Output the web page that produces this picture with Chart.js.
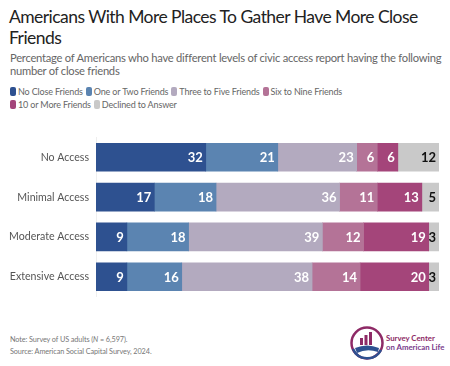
<!DOCTYPE html>
<html>
<head>
<meta charset="utf-8">
<script src="https://cdn.jsdelivr.net/npm/chart.js@4/dist/chart.umd.min.js"></script>
<style>
  body { margin: 0; background: #fff; font-family: Lato, 'Open Sans', sans-serif; }
  #wrap { position: relative; width: 450px; height: 366px; overflow: hidden; }
  h1 { position: absolute; left: 9px; top: 6px; margin: 0; font-weight: 400; font-size: 17.5px; line-height: 21px; color: #222; letter-spacing: -0.55px; white-space: nowrap; }
  #sub { position: absolute; left: 10px; top: 52px; margin: 0; font-size: 11.2px; line-height: 12.5px; color: #666; letter-spacing: -0.25px; white-space: nowrap; }
  #legend { position: absolute; left: 10px; top: 86px; font-size: 9px; line-height: 12.5px; color: #666; white-space: nowrap; letter-spacing: -0.15px; }
  #legend span.item { margin-right: 3px; }
  #legend i { display: inline-block; width: 6px; height: 9px; border-radius: 2px; margin-right: 2px; vertical-align: -1px; }
  #chartBox { position: absolute; left: 0; top: 124px; width: 450px; height: 186px; }
  #note { position: absolute; left: 10px; top: 334px; font-size: 7.3px; line-height: 12px; color: #777; letter-spacing: -0.1px; }
  #logo { position: absolute; left: 348px; top: 325px; }
</style>
</head>
<body>
<div id="wrap">
  <h1>Americans With More Places To Gather Have More Close<br>Friends</h1>
  <p id="sub">Percentage of Americans who have different levels of civic access report having the following<br>number of close friends</p>
  <div id="legend"></div>
  <div id="chartBox"><canvas id="friendsChart"></canvas></div>
  <div id="note">Note: Survey of US adults (<i>N</i> = 6,597).<br>Source: American Social Capital Survey, 2024.</div>
  <svg id="logo" width="100" height="38" viewBox="0 0 100 38">
    <circle cx="19" cy="18" r="15.5" fill="none" stroke="#8e2a66" stroke-width="2.5"/>
    <path d="M5 24 A15.5 15.5 0 0 0 33 25" fill="none" stroke="#2e5190" stroke-width="2.5"/>
    <rect x="12" y="13" width="3" height="7" fill="#8e2a66"/>
    <rect x="16.5" y="10" width="3" height="10" fill="#8e2a66"/>
    <rect x="21" y="7" width="3" height="13" fill="#8e2a66"/>
    <path d="M7 23 Q19 18 31 23 L30 27 Q19 23 9 28 Z" fill="#2e5190"/>
    <text x="38" y="16" font-size="7.8" font-weight="700" fill="#8e2a66" font-family="Lato, sans-serif">Survey Center</text>
    <text x="38" y="25" font-size="7.8" font-weight="700" fill="#7a3c8c" font-family="Lato, sans-serif">on American Life</text>
  </svg>
</div>
<script>
'use strict';

let accessLevels = ['No Access', 'Minimal Access', 'Moderate Access', 'Extensive Access'];

let friendGroups = ['No Close Friends', 'One or Two Friends', 'Three to Five Friends', 'Six to Nine Friends', '10 or More Friends', 'Declined to Answer'];

let noCloseFriends = [32, 17, 9, 9];
let oneOrTwo = [21, 18, 18, 16];
let threeToFive = [23, 36, 39, 38];
let sixToNine = [6, 11, 12, 14];
let tenOrMore = [6, 13, 19, 20];
let declined = [12, 5, 3, 3];

let groupColors = ['#2e5190', '#5b84b1', '#b3aabf', '#b47397', '#a4457a', '#c9c9c9'];
let labelColors = ['#fff', '#fff', '#fff', '#fff', '#fff', '#111'];

let allSeries = [noCloseFriends, oneOrTwo, threeToFive, sixToNine, tenOrMore, declined];

// html legend, wraps after the fourth item like the original
let legendBox = document.getElementById('legend');
for (let i = 0; i < friendGroups.length; i++) {
  let item = document.createElement('span');
  item.className = 'item';
  item.innerHTML = `<i style="background:${groupColors[i]}"></i>${friendGroups[i]}`;
  legendBox.appendChild(item);
  if (i === 3) {
    legendBox.appendChild(document.createElement('br'));
  }
}

// draws the numbers at the right end of each segment
const barLabels = {
  id: 'barLabels',
  afterDatasetsDraw(chart) {
    let ctx = chart.ctx;
    ctx.save();
    ctx.font = 'bold 13px Lato, sans-serif';
    ctx.textAlign = 'right';
    ctx.textBaseline = 'middle';
    chart.data.datasets.forEach((ds, i) => {
      let meta = chart.getDatasetMeta(i);
      meta.data.forEach((bar, j) => {
        ctx.fillStyle = labelColors[i];
        ctx.fillText(ds.data[j], bar.x - 3, bar.y + 1);
      });
    });
    ctx.restore();
  }
};

let datasets = [];
for (let i = 0; i < friendGroups.length; i++) {
  datasets.push({
    label: friendGroups[i],
    data: allSeries[i],
    backgroundColor: groupColors[i],
    borderWidth: 0,
    barThickness: 28
  });
}

const config = {
  type: 'bar',
  data: { labels: accessLevels, datasets: datasets },
  options: {
    indexAxis: 'y',
    responsive: true,
    maintainAspectRatio: false,
    animation: false,
    layout: { padding: { left: 0, right: 11, top: 0, bottom: 0 } },
    plugins: {
      legend: { display: false },
      tooltip: { enabled: false }
    },
    scales: {
      x: {
        stacked: true,
        min: 0,
        max: 100,
        display: false
      },
      y: {
        stacked: true,
        grid: { display: false, drawTicks: false },
        border: { display: true, color: '#eeeeee' },
        ticks: {
          color: '#555',
          padding: 7,
          font: { family: 'Lato, sans-serif', size: 10.6 }
        },
        afterFit(scale) { scale.width = 96; }
      }
    }
  },
  plugins: [barLabels]
};

new Chart(document.getElementById('friendsChart'), config);
</script>
</body>
</html>
